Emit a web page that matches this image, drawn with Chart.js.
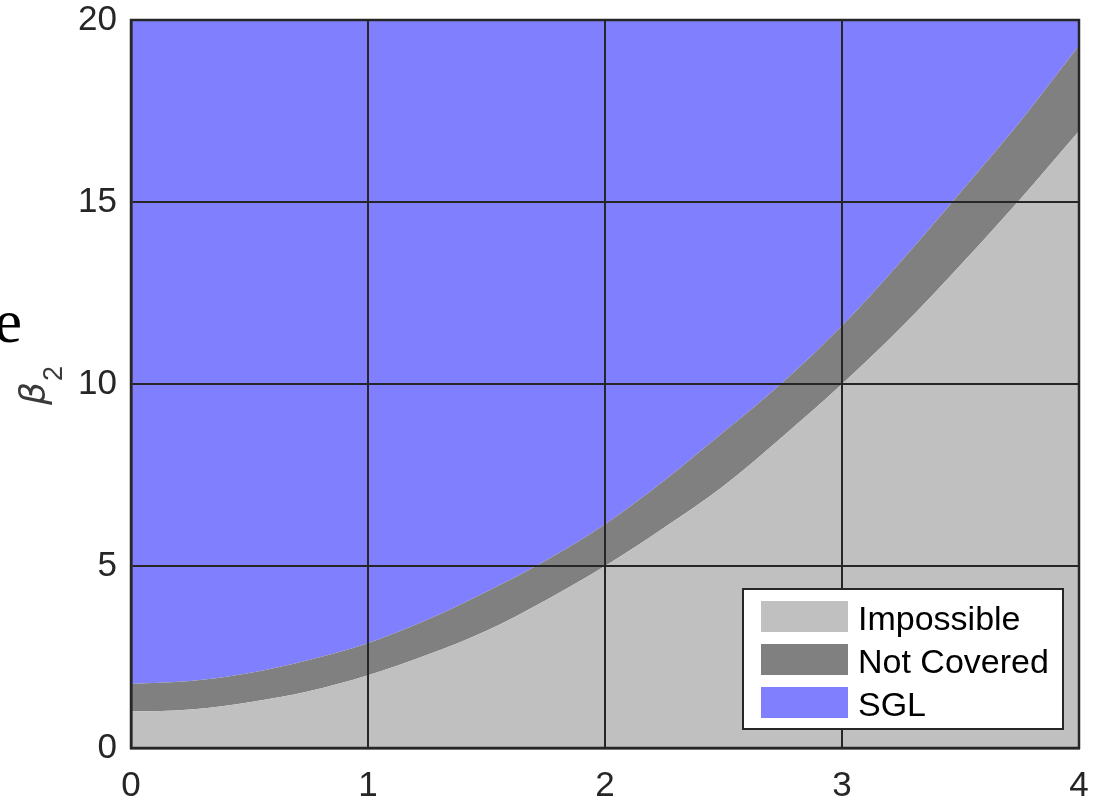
<!DOCTYPE html>
<html>
<head>
<meta charset="utf-8">
<script src="https://cdn.jsdelivr.net/npm/chart.js@4.4.1/dist/chart.umd.min.js"></script>
<style>
  html, body { margin: 0; padding: 0; background: #fff; }
  #wrap { width: 1096px; height: 803px; }
</style>
</head>
<body>
<div id="wrap"><canvas id="region-chart" width="1096" height="803"></canvas></div>
<script>
// values
const xs = [0, 0.25, 0.5, 0.75, 1, 1.25, 1.5, 1.75, 2, 2.25, 2.5, 2.75, 3, 3.25, 3.5, 3.75, 4];
const impossibleTop = [1, 1.06, 1.26, 1.56, 2, 2.56, 3.22, 4.06, 5, 6.06, 7.2, 8.56, 10, 11.56, 13.27, 15.06, 16.95];
const notCoveredTop = [1.76, 1.84, 2.06, 2.42, 2.88, 3.52, 4.29, 5.15, 6.15, 7.35, 8.68, 10.05, 11.6, 13.38, 15.27, 17.2, 19.3];
const sglTop = [20, 20, 20, 20, 20, 20, 20, 20, 20, 20, 20, 20, 20, 20, 20, 20, 20];
const xTicks = [0, 1, 2, 3, 4];
const yTicks = [0, 5, 10, 15, 20];
const labels = ["Impossible", "Not Covered", "SGL"];

const toPts = (ys) => xs.map((x, i) => ({ x: x, y: ys[i] }));

const ink = "#262626";
const tickFont = { family: "'Liberation Sans', Arial, sans-serif", size: 35 };

// frame + legend + the stray label bits
const extras = {
  id: "extras",
  afterDraw(chart) {
    const ctx = chart.ctx;
    const a = chart.chartArea;
    ctx.save();
    ctx.strokeStyle = ink;
    ctx.lineWidth = 2.5;
    ctx.strokeRect(a.left, a.top, a.right - a.left, a.bottom - a.top);

    // legend box
    const lx = 743, ly = 589, lw = 320, lh = 140;
    ctx.fillStyle = "#fff";
    ctx.fillRect(lx, ly, lw, lh);
    ctx.lineWidth = 2;
    ctx.strokeRect(lx, ly, lw, lh);
    ctx.font = "34px 'Liberation Sans', Arial, sans-serif";
    ctx.textBaseline = "alphabetic";
    ctx.textAlign = "left";
    chart.data.datasets.forEach((ds, i) => {
      const y0 = 601 + i * 43;
      ctx.fillStyle = ds.backgroundColor;
      ctx.fillRect(761, y0, 87, 31);
      ctx.fillStyle = "#000";
      ctx.fillText(ds.label, 858, y0 + 29);
    });

    // y axis title: beta with subscript 2
    ctx.translate(40, 386);
    ctx.rotate(-Math.PI / 2);
    ctx.fillStyle = "#3a3a3a";
    ctx.font = "italic 36px 'DejaVu Sans', sans-serif";
    ctx.fillText("\u03b2", -19, 5);
    ctx.font = "27px 'Liberation Sans', Arial, sans-serif";
    ctx.fillText("2", 5, 22);
    ctx.restore();

    // clipped letter at far left
    ctx.save();
    ctx.fillStyle = "#000";
    ctx.font = "62px 'Liberation Serif', 'Times New Roman', serif";
    ctx.textAlign = "right";
    ctx.fillText("e", 22, 342);
    ctx.restore();
  }
};

new Chart(document.getElementById("region-chart"), {
  type: "line",
  data: {
    datasets: [
      {
        label: labels[0],
        data: toPts(impossibleTop),
        backgroundColor: "#c0c0c0",
        fill: "origin",
      },
      {
        label: labels[1],
        data: toPts(notCoveredTop),
        backgroundColor: "#808080",
        fill: "-1",
      },
      {
        label: labels[2],
        data: toPts(sglTop),
        backgroundColor: "#8080ff",
        fill: "-1",
      },
    ],
  },
  options: {
    responsive: false,
    animation: false,
    events: [],
    layout: { padding: { top: 20, right: 17, left: 0, bottom: 0 } },
    elements: {
      line: { borderWidth: 0, cubicInterpolationMode: "monotone" },
      point: { radius: 0 },
    },
    plugins: {
      legend: { display: false },
      tooltip: { enabled: false },
    },
    scales: {
      x: {
        type: "linear",
        min: 0,
        max: 4,
        afterBuildTicks: (s) => { s.ticks = xTicks.map((v) => ({ value: v })); },
        afterFit: (s) => { s.height = 55; s.paddingLeft = 0; s.paddingRight = 0; },
        ticks: { font: tickFont, color: ink, padding: 17 },
        grid: { color: ink, lineWidth: 2, drawTicks: false, z: 1 },
        border: { color: ink, width: 2.5, z: 1 },
      },
      y: {
        min: 0,
        max: 20,
        afterBuildTicks: (s) => { s.ticks = yTicks.map((v) => ({ value: v })); },
        afterFit: (s) => { s.width = 131; s.paddingTop = 0; s.paddingBottom = 0; },
        ticks: { font: tickFont, color: ink, padding: 14 },
        grid: { color: ink, lineWidth: 2, drawTicks: false, z: 1 },
        border: { color: ink, width: 2.5, z: 1 },
      },
    },
  },
  plugins: [extras],
});
</script>
</body>
</html>
